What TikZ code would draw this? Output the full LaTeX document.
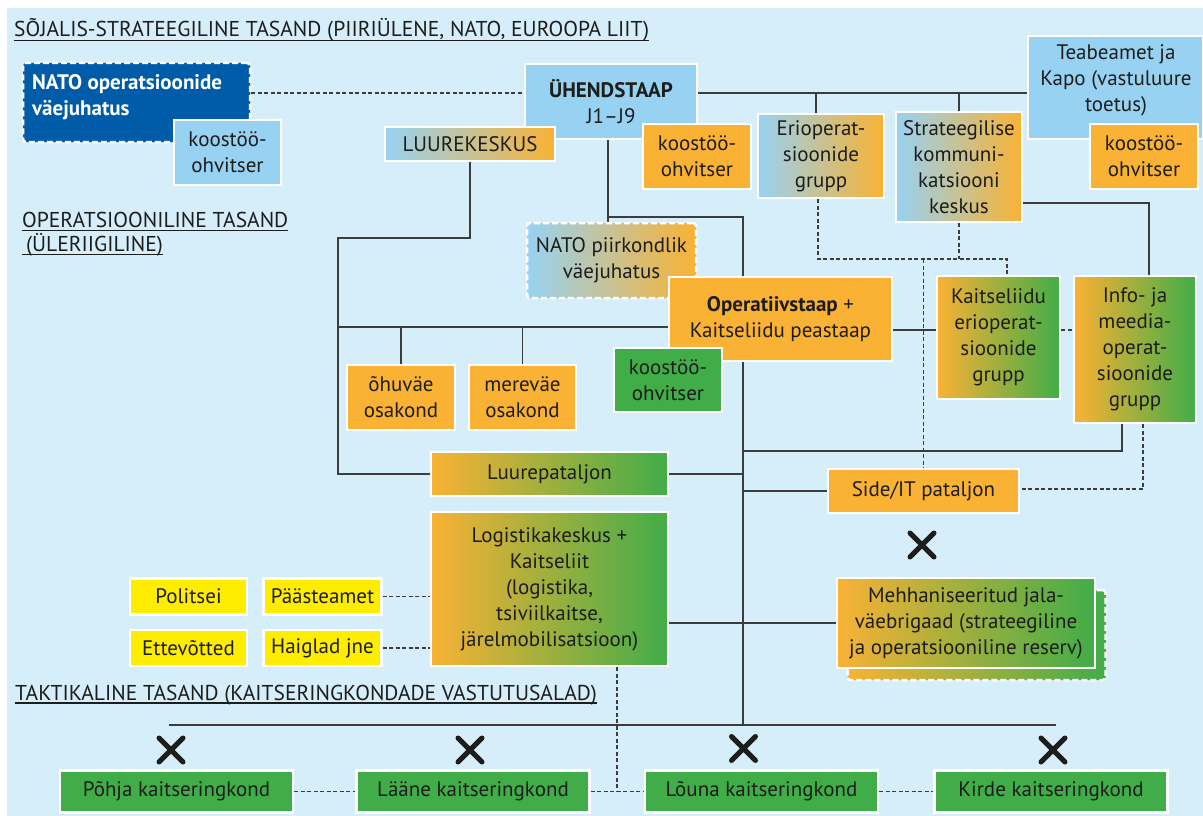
\documentclass[tikz,border=0pt]{standalone}
\usepackage{fontspec}
\setmainfont{PT Sans}
\pgfdeclarelayer{bg}
\pgfsetlayers{bg,main}
\definecolor{bgblue}{HTML}{D5EEFA}
\definecolor{lblue}{HTML}{98D2F2}
\definecolor{orng}{HTML}{F9B234}
\definecolor{grn}{HTML}{41AD49}
\definecolor{dblue}{HTML}{005CA9}
\definecolor{yel}{HTML}{FFED00}
\definecolor{txt}{HTML}{1D1D1B}
\definecolor{lineclr}{HTML}{3C3C3B}
\newcommand\boxfont{\fontsize{21}{26}\selectfont}
\newcommand\ttlfont{\fontsize{21.5}{25}\selectfont}
\begin{document}
\begin{tikzpicture}[x=1pt,y=-1pt,
  box/.style={draw=white, line width=2.5pt, align=center, inner sep=2pt, font=\boxfont, text=txt},
  sz/.style 2 args={minimum width=#1pt, minimum height=#2pt},
  lb/.style={box, fill=lblue},
  og/.style={box, fill=orng},
  gr/.style={box, fill=grn},
  yl/.style={box, fill=yel},
  bo/.style={box, left color=lblue, right color=orng},
  og2/.style={box, left color=orng, right color=grn},
  dashedb/.style={dash pattern=on 6pt off 3pt, rounded corners=3pt},
  dbox/.style={box, fill=dblue, dashedb},
  txtn/.style={inner sep=0pt, align=center, font=\boxfont, text=txt},
  ttl/.style={inner sep=0pt, font=\ttlfont, text=txt},
  uline/.style={draw=txt, line width=1.2pt},
  ln/.style={draw=lineclr, line width=1.4pt},
  dl/.style={draw=lineclr, line width=1.3pt, dash pattern=on 4pt off 2.5pt},
  xm/.style={draw=txt, line width=5pt, line cap=round}
]
\useasboundingbox (0,0) rectangle (1203,816);
\begin{pgfonlayer}{bg}
\fill[white] (0,0) rectangle (1203,816);
\fill[bgblue] (7,8) rectangle (1203,816);
\end{pgfonlayer}

% titles
\node[ttl, anchor=base west] (t1) at (14,37) {SÕJALIS-STRATEEGILINE TASAND (PIIRIÜLENE, NATO, EUROOPA LIIT)};
\node[ttl, anchor=base west] (t2) at (22,227.5) {OPERATSIOONILINE TASAND};
\node[ttl, anchor=base west] (t3) at (22,251.5) {\hspace*{4pt}(ÜLERIIGILINE)};
\node[ttl, anchor=base west] (t4) at (15,700) {TAKTIKALINE TASAND (KAITSERINGKONDADE VASTUTUSALAD)};
\draw[uline] ([yshift=-3.5pt]t1.base west) -- ([yshift=-3.5pt]t1.base east);
\draw[uline] ([yshift=-3pt]t2.base west) -- ([yshift=-3pt]t2.base east);
\draw[uline] ([yshift=-3pt]t3.base west) -- ([yshift=-3pt]t3.base east);
\draw[uline] ([yshift=-3pt]t4.base west) -- ([yshift=-3pt]t4.base east);

% strategic level
\node[dbox, sz={227}{79}] (natoop) at (136.5,102.5) {};
\node[anchor=north west, inner sep=0pt, align=left, text=white, font=\boxfont\bfseries] (natooptxt) at (32,74) {NATO operatsioonide\\väejuhatus};
\node[lb, sz={107}{65}] (koop1) at (227.5,152.5) {koostöö-\\ohvitser};
\node[lb, sz={172}{75}] (uhend) at (611,101.5) {\textbf{ÜHENDSTAAP}\\J1–J9};
\node[bo, sz={170}{34}] (luure) at (470,144) {LUUREKESKUS};
\node[og, sz={108}{65}] (koop2) at (697,156.5) {koostöö-\\ohvitser};
\node[bo, sz={126}{84}] (erio) at (821,156) {Erioperat-\\sioonide\\grupp};
\node[bo, sz={126}{110}] (strat) at (959,167) {Strateegilise\\kommuni-\\katsiooni\\keskus};
\node[lb, sz={175}{103}] (teabe) at (1115.5,87.5) {};
\node[txtn] (teabetxt) at (1116,80) {Teabeamet ja\\Kapo (vastuluure\\toetus)};
\node[og, sz={108}{65}] (koop3) at (1144,156.5) {koostöö-\\ohvitser};

% operational level
\node[bo, dashedb, sz={169}{75}] (natopiir) at (611.5,260.5) {NATO piirkondlik\\väejuhatus};
\node[og, sz={223}{84}] (opstaap) at (780.5,319) {\textbf{Operatiivstaap} +\\Kaitseliidu peastaap};
\node[gr, sz={108}{64}] (koop4) at (668,380) {koostöö-\\ohvitser};
\node[og, sz={108}{65}] (ohuvae) at (401,397.5) {õhuväe\\osakond};
\node[og, sz={107}{65}] (merevae) at (522.5,397.5) {mereväe\\osakond};
\node[og2, sz={237}{44}] (luurepat) at (549.5,474) {Luurepataljon};
\node[og2, sz={123}{123}] (klerio) at (998.5,337.5) {Kaitseliidu\\erioperat-\\sioonide\\grupp};
\node[og2, sz={122}{147}] (info) at (1135,349.5) {Info- ja\\meedia-\\operat-\\sioonide\\grupp};
\node[og, sz={191}{44}] (sideit) at (923.5,491) {Side/IT pataljon};
\node[og2, dashedb, sz={258}{90}] (mehhsh) at (976.5,635) {};
\node[og2, sz={258}{90}] (mehh) at (966,623) {Mehhaniseeritud jala-\\väebrigaad (strateegiline\\ja operatsiooniline reserv)};
\node[og2, sz={237}{154}] (logist) at (549.5,589) {Logistikakeskus +\\Kaitseliit\\(logistika,\\tsiviilkaitse,\\järelmobilisatsioon)};
\node[yl, sz={117}{36}] (politsei) at (188.5,596.5) {Politsei};
\node[yl, sz={118}{36}] (paaste) at (322.5,596.5) {Päästeamet};
\node[yl, sz={117}{36}] (ettev) at (188.5,648) {Ettevõtted};
\node[yl, sz={118}{36}] (haiglad) at (322.5,648) {Haiglad jne};

% tactical level
\node[gr, sz={233}{42}] (pohja) at (176.5,791.5) {Põhja kaitseringkond};
\node[gr, sz={233}{42}] (laane) at (473,791.5) {Lääne kaitseringkond};
\node[gr, sz={233}{42}] (louna) at (761.5,791.5) {Lõuna kaitseringkond};
\node[gr, sz={233}{42}] (kirde) at (1051,791.5) {Kirde kaitseringkond};

% crosses
\coordinate (x0) at (922,545);
\coordinate (x1) at (171,750);
\coordinate (x2) at (470,750);
\coordinate (x3) at (743.5,748.5);
\coordinate (x4) at (1053,750);
\foreach \c in {x0,x1,x2,x3,x4}{
  \draw[xm] (\c) +(-12,-12) -- +(12,12) (\c) +(-12,12) -- +(12,-12);
}

% junction coordinates
\coordinate (tb) at (0,93);
\coordinate (b1) at (816,93);
\coordinate (c1) at (1149,203);
\coordinate (c2) at (608,217);
\coordinate (c3) at (743,217);
\coordinate (c4) at (1122,451);
\coordinate (c5) at (0,330);
\coordinate (l1) at (338,238);
\coordinate (l2) at (338,327);
\coordinate (bl) at (169,725);
\coordinate (br) at (1056,725);
\coordinate (d1) at (818,259);
\coordinate (d2) at (1007,259);
\coordinate (d3) at (1143,489);
\coordinate (d4) at (617,792);

\begin{pgfonlayer}{bg}
% solid connectors
\draw[ln] (uhend.east |- tb) -- (teabe.west |- tb);
\draw[ln] (b1) -- (b1 |- erio.north);
\draw[ln] (strat.north |- tb) -- (strat.north);
\draw[ln] (strat.east |- c1) -- (c1) -- (c1 |- info.north);
\draw[ln] (c2 |- uhend.south) -- (c2 |- natopiir.north);
\draw[ln] (c2) -- (c3) -- (c3 |- opstaap.north);
\draw[ln] (c3 |- opstaap.south) -- (c3 |- bl);
\draw[ln] (bl) -- (br);
\draw[ln] (luure.south) -- (luure.south |- l1) -- (l1) -- (l1 |- luurepat.west) -- (luurepat.west);
\draw[ln] (l2) -- (l2 -| opstaap.west);
\draw[ln] (ohuvae.north |- l2) -- (ohuvae.north);
\draw[ln] (merevae.north |- l2) -- (merevae.north);
\draw[ln] (luurepat.east) -- (luurepat.east -| c3);
\draw[ln] (sideit.west) -- (sideit.west -| c3);
\draw[ln] (c4 |- info.south) -- (c4) -- (c4 -| c3);
\draw[ln] (logist.east |- mehh.west) -- (mehh.west);
\draw[ln] (opstaap.east |- c5) -- (klerio.west |- c5);
% dashed connectors
\draw[dl] (natoop.east |- tb) -- (uhend.west |- tb);
\draw[dl] (d1 |- erio.south) -- (d1) -- (d2) -- (d2 |- klerio.north);
\draw[dl] (strat.south) -- (strat.south |- d1);
\draw[dl] (sideit.north |- d1) -- (sideit.north);
\draw[dl] (klerio.east |- c5) -- (info.west |- c5);
\draw[dl] (d3 |- info.south) -- (d3) -- (d3 -| sideit.east);
\draw[dl] (paaste.east) -- (paaste.east -| logist.west);
\draw[dl] (haiglad.east) -- (haiglad.east -| logist.west);
\draw[dl] (d4 |- logist.south) -- (d4);
\draw[dl] (pohja.east) -- (laane.west);
\draw[dl] (laane.east) -- (louna.west);
\draw[dl] (louna.east) -- (kirde.west);
\end{pgfonlayer}
\end{tikzpicture}
\end{document}
